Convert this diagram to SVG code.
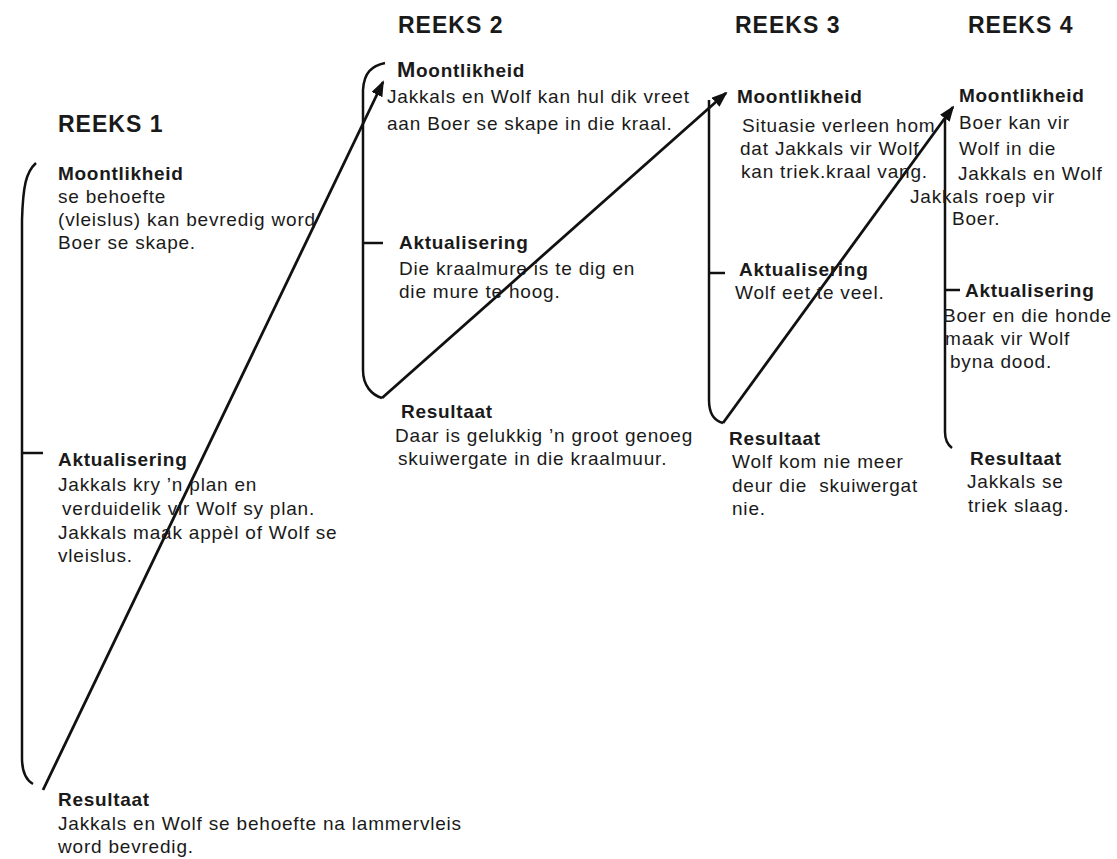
<svg xmlns="http://www.w3.org/2000/svg" width="1117" height="859" viewBox="0 0 1117 859">
<style>
text{font-family:"Liberation Sans",Arial,sans-serif;fill:#1a1a1a;}
.t{font-size:19px;letter-spacing:0.8px;}
.b{font-size:19px;font-weight:bold;letter-spacing:0.7px;}
.h{font-size:23px;font-weight:bold;letter-spacing:1px;}
.br{fill:none;stroke:#111;stroke-width:2.5;}
.ar{fill:none;stroke:#111;stroke-width:2.8;marker-end:url(#ah);}
</style>
<defs>
<marker id="ah" markerWidth="16" markerHeight="12" refX="14" refY="6" orient="auto" markerUnits="userSpaceOnUse">
<path d="M0,0 L16,6 L0,12 Z" fill="#111"/>
</marker>
</defs>
<rect width="1117" height="859" fill="#fff"/>
<g id="headers">
<text class="h" x="58" y="132">REEKS 1</text>
<text class="h" x="398" y="33">REEKS 2</text>
<text class="h" x="735" y="33">REEKS 3</text>
<text class="h" x="968" y="33">REEKS 4</text>
</g>
<g id="connectors">
<path class="br" d="M36,163 C26,172 23,186 22,220 L22,758 C22,772 26,780 33,784"/>
<line class="br" x1="22" y1="453" x2="43" y2="453"/>
<path class="br" d="M385,63 C372,66 364,72 363,90 L363,370 C363,386 372,395 382,398"/>
<line class="br" x1="363" y1="243" x2="383" y2="243"/>
<path class="br" d="M709,100 L709,400 C709,414 715,421 723,423"/>
<line class="br" x1="709" y1="273" x2="725" y2="273"/>
<path class="br" d="M945,118 L945,432 C945,440 948,445 952,448"/>
<line class="br" x1="945" y1="290" x2="960" y2="290"/>
<line class="ar" x1="43" y1="790" x2="383" y2="82"/>
<line class="ar" x1="382" y1="398" x2="726" y2="93"/>
<line class="ar" x1="723" y1="423" x2="953" y2="107"/>
</g>
<g id="r1-moontlikheid">
<text class="b" x="58" y="180">Moontlikheid</text>
<text class="t" x="58" y="203">se behoefte</text>
<text class="t" x="58" y="226">(vleislus) kan bevredig word</text>
<text class="t" x="58" y="249">Boer se skape.</text>
</g>
<g id="r1-aktualisering">
<text class="b" x="58" y="466">Aktualisering</text>
<text class="t" x="58" y="491">Jakkals kry ’n plan en</text>
<text class="t" x="62" y="515">verduidelik vir Wolf sy plan.</text>
<text class="t" x="58" y="539">Jakkals maak appèl of Wolf se</text>
<text class="t" x="58" y="562">vleislus.</text>
</g>
<g id="r1-resultaat">
<text class="b" x="58" y="806">Resultaat</text>
<text class="t" x="58" y="830">Jakkals en Wolf se behoefte na lammervleis</text>
<text class="t" x="58" y="853">word bevredig.</text>
</g>
<g id="r2-moontlikheid">
<text class="b" x="397" y="77"><tspan font-size="22px">M</tspan>oontlikheid</text>
<text class="t" x="387" y="103">Jakkals en Wolf kan hul dik vreet</text>
<text class="t" x="387" y="130">aan Boer se skape in die kraal.</text>
</g>
<g id="r2-aktualisering">
<text class="b" x="399" y="249">Aktualisering</text>
<text class="t" x="399" y="275">Die kraalmure is te dig en</text>
<text class="t" x="399" y="298">die mure te hoog.</text>
</g>
<g id="r2-resultaat">
<text class="b" x="401" y="418">Resultaat</text>
<text class="t" x="395" y="442">Daar is gelukkig ’n groot genoeg</text>
<text class="t" x="398" y="465">skuiwergate in die kraalmuur.</text>
</g>
<g id="r3-moontlikheid">
<text class="b" x="737" y="103">Moontlikheid</text>
<text class="t" x="742" y="132">Situasie verleen hom</text>
<text class="t" x="740" y="155">dat Jakkals vir Wolf</text>
<text class="t" x="741" y="178">kan triek.kraal vang.</text>
</g>
<g id="r3-aktualisering">
<text class="b" x="739" y="276">Aktualisering</text>
<text class="t" x="735" y="299">Wolf eet te veel.</text>
</g>
<g id="r3-resultaat">
<text class="b" x="729" y="445">Resultaat</text>
<text class="t" x="732" y="468">Wolf kom nie meer</text>
<text class="t" x="732" y="492">deur die&#160; skuiwergat</text>
<text class="t" x="732" y="515">nie.</text>
</g>
<g id="r4-moontlikheid">
<text class="b" x="959" y="102">Moontlikheid</text>
<text class="t" x="959" y="129">Boer kan vir</text>
<text class="t" x="959" y="155">Wolf in die</text>
<text class="t" x="958" y="180">Jakkals en Wolf</text>
<text class="t" x="910" y="203">Jakkals roep vir</text>
<text class="t" x="952" y="225">Boer.</text>
</g>
<g id="r4-aktualisering">
<text class="b" x="965" y="297">Aktualisering</text>
<text class="t" x="943" y="322">Boer en die honde</text>
<text class="t" x="945" y="345">maak vir Wolf</text>
<text class="t" x="950" y="368">byna dood.</text>
</g>
<g id="r4-resultaat">
<text class="b" x="970" y="465">Resultaat</text>
<text class="t" x="967" y="488">Jakkals se</text>
<text class="t" x="968" y="512">triek slaag.</text>
</g>
</svg>
